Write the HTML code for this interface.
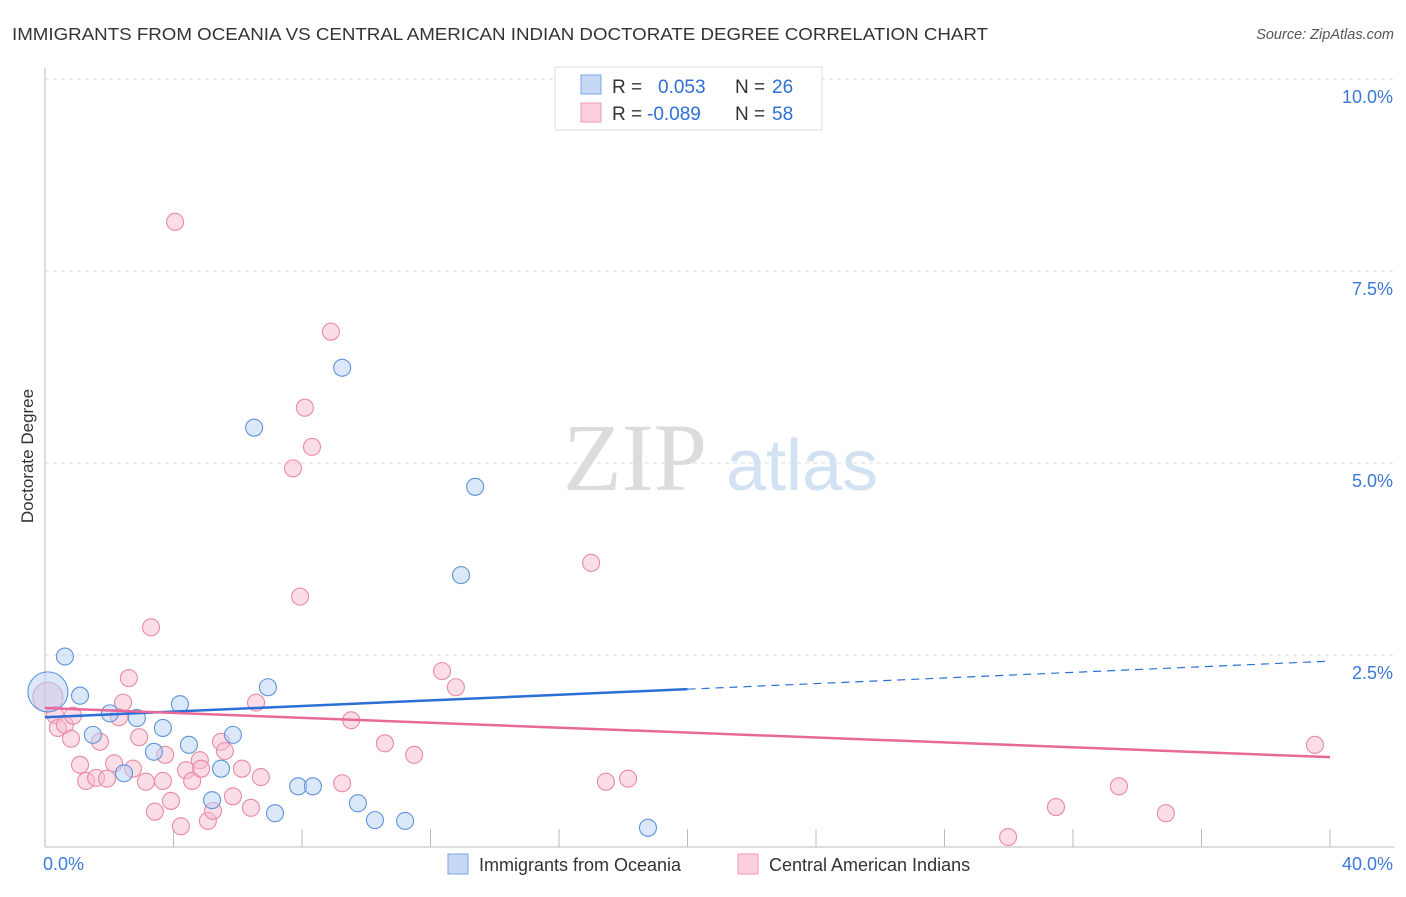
<!DOCTYPE html>
<html><head><meta charset="utf-8"><style>
body{margin:0;background:#fff;font-family:"Liberation Sans",sans-serif;}
</style></head><body>
<svg id="chart" width="1406" height="892" xmlns="http://www.w3.org/2000/svg" style="font-family:'Liberation Sans',sans-serif">
<text x="12" y="40" font-size="17.5" fill="#333" textLength="976" lengthAdjust="spacingAndGlyphs">IMMIGRANTS FROM OCEANIA VS CENTRAL AMERICAN INDIAN DOCTORATE DEGREE CORRELATION CHART</text>
<text x="1394" y="39" font-size="14.5" fill="#555" font-style="italic" text-anchor="end">Source: ZipAtlas.com</text>
<g id="grid"></g>
<g>
<text x="635" y="490" font-size="96" fill="#dcdcdc" style="font-family:'Liberation Serif',serif" text-anchor="middle">ZIP</text>
<text x="802" y="490" font-size="72" fill="#d3e2f3" text-anchor="middle">atlas</text>
</g>
<text transform="translate(33,456) rotate(-90)" font-size="17" fill="#333" text-anchor="middle">Doctorate Degree</text>
<g id="marks"></g>
<g>
<rect x="555" y="67" width="267" height="63" fill="#fff" stroke="#ddd"/>
<rect x="581" y="75" width="20" height="19" fill="#c5d9f5" stroke="#7aa6e0"/>
<rect x="581" y="103" width="20" height="19" fill="#fbd0dc" stroke="#ee9bb4"/>
<text x="612" y="93" font-size="19" fill="#333">R =</text>
<text x="658" y="93" font-size="19" fill="#2d6fd6">0.053</text>
<text x="735" y="93" font-size="19" fill="#333">N =</text>
<text x="772" y="93" font-size="19" fill="#2d6fd6">26</text>
<text x="612" y="120" font-size="19" fill="#333">R =</text>
<text x="647" y="120" font-size="19" fill="#2d6fd6">-0.089</text>
<text x="735" y="120" font-size="19" fill="#333">N =</text>
<text x="772" y="120" font-size="19" fill="#2d6fd6">58</text>
</g>
<g>
<rect x="448" y="854" width="20" height="20" fill="#c5d9f5" stroke="#7aa6e0"/>
<text x="479" y="871" font-size="18" fill="#333">Immigrants from Oceania</text>
<rect x="738" y="854" width="20" height="20" fill="#fbd0dc" stroke="#ee9bb4"/>
<text x="769" y="871" font-size="18" fill="#333">Central American Indians</text>
</g>
</svg>
<script>
const xTicks=[0,4,8,12,16,20,24,28,32,36,40];
const yTicks=[2.5,5,7.5,10];
const yTickLabels=["2.5%","5.0%","7.5%","10.0%"];
const xEndLabels=["0.0%","40.0%"];
const blueX=[0.09,0.62,1.09,2.02,1.49,2.46,2.86,3.39,3.67,4.20,4.48,5.20,5.48,5.85,6.51,6.94,7.16,7.88,8.34,9.25,9.74,10.27,11.21,12.95,13.39,18.77];
const blueY=[2.02,2.48,1.97,1.74,1.46,0.96,1.68,1.24,1.55,1.86,1.33,0.61,1.02,1.46,5.46,2.08,0.44,0.79,0.79,6.24,0.57,0.35,0.34,3.54,4.69,0.25];
const pinkX=[0.09,0.31,0.40,0.62,0.81,0.87,1.09,1.28,1.59,1.71,1.93,2.15,2.30,2.43,2.61,2.74,2.93,3.14,3.30,3.42,3.67,3.74,3.92,4.05,4.23,4.39,4.58,4.82,4.86,5.07,5.23,5.48,5.60,5.85,6.13,6.41,6.57,6.72,7.72,7.94,8.09,8.31,8.90,9.25,9.53,10.58,11.49,12.36,12.79,17.00,17.46,18.15,29.98,31.47,33.43,34.89,39.53];
const pinkY=[1.95,1.72,1.55,1.59,1.41,1.71,1.07,0.86,0.90,1.37,0.89,1.09,1.69,1.88,2.20,1.02,1.43,0.85,2.86,0.46,0.86,1.20,0.60,8.14,0.27,1.00,0.86,1.13,1.02,0.34,0.47,1.37,1.25,0.66,1.02,0.51,1.88,0.91,4.93,3.26,5.72,5.21,6.71,0.83,1.65,1.35,1.20,2.29,2.08,3.70,0.85,0.89,0.13,0.52,0.79,0.44,1.33];
const blueTrend=[1.69,2.42];
const blueSolidEnd=20;
const pinkTrend=[1.81,1.17];
const X=v=>45+v*32.125, Y=v=>847-v*76.8;
const NS="http://www.w3.org/2000/svg";
function mk(t,a,p){const e=document.createElementNS(NS,t);for(const k in a)e.setAttribute(k,a[k]);p.appendChild(e);return e;}
const grid=document.getElementById('grid'), marks=document.getElementById('marks');
yTicks.forEach((v,i)=>{
 const l=mk('line',{x1:45,x2:1394,y1:Y(v),y2:Y(v),stroke:'#ddd','stroke-dasharray':'4,4'},grid);
 
 
 const t=mk('text',{x:1393,y:Y(v)+24,'font-size':18,fill:'#3b78d8','text-anchor':'end'},grid);
 t.textContent=yTickLabels[i];
 
 
});
const ax=mk('line',{x1:45,x2:45,y1:68,y2:847,stroke:'#bbb'},grid);


const bx=mk('line',{x1:45,x2:1394,y1:847,y2:847,stroke:'#bbb'},grid);


xTicks.forEach(v=>{const t=mk('line',{x1:X(v),x2:X(v),y1:829,y2:847,stroke:'#bbb'},grid);
 
 });
[[0,'start',-2],[40,'end',63]].forEach((p,i)=>{const t=mk('text',{x:X(p[0])+p[2],y:870,'font-size':18,fill:'#3b78d8','text-anchor':p[1]},grid);t.textContent=xEndLabels[i];
 
 });
function dots(xs,ys,fill,stroke,name){xs.forEach((x,i)=>{const c=mk('circle',{cx:X(x),cy:Y(ys[i]),r:i==0?(name=='blue-point'?20:15):8.5,fill:fill,'fill-opacity':0.5,stroke:stroke,'stroke-width':1.1},marks);
 
 });}
dots(pinkX,pinkY,'#f8bccd','#e88aa8','pink-point');
dots(blueX,blueY,'#b8d1f3','#5f93da','blue-point');
const ty=(a,x)=>a[0]+(a[1]-a[0])*x/40;
let l=mk('line',{x1:X(0),y1:Y(ty(blueTrend,0)),x2:X(blueSolidEnd),y2:Y(ty(blueTrend,blueSolidEnd)),stroke:'#2b6fd6','stroke-width':2.5},marks);


l=mk('line',{x1:X(blueSolidEnd),y1:Y(ty(blueTrend,blueSolidEnd)),x2:X(40),y2:Y(ty(blueTrend,40)),stroke:'#2b6fd6','stroke-width':1.2,'stroke-dasharray':'8,6'},marks);


l=mk('line',{x1:X(0),y1:Y(pinkTrend[0]),x2:X(40),y2:Y(pinkTrend[1]),stroke:'#e8689a','stroke-width':2.5},marks);


</script>
</body></html>
